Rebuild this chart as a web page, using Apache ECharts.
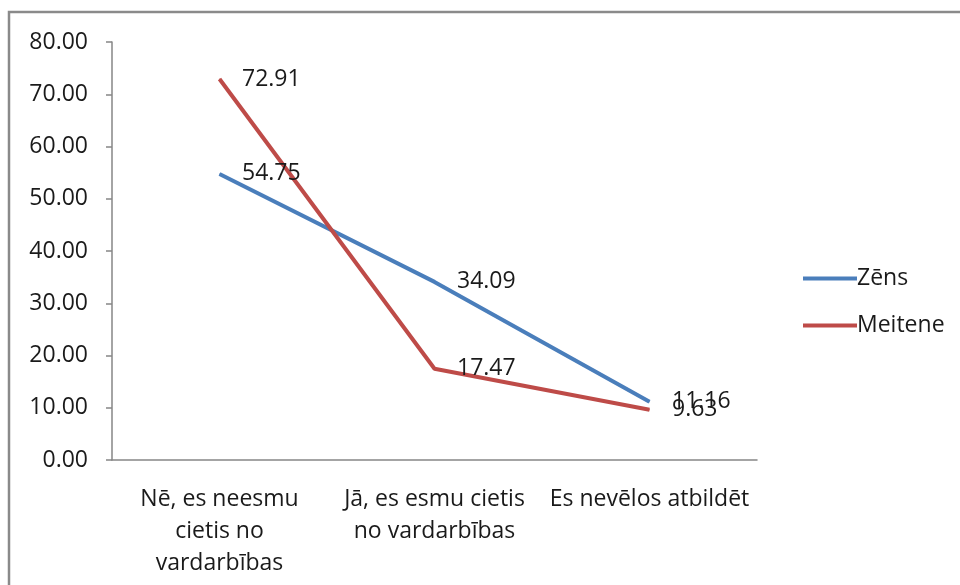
<!DOCTYPE html>
<html>
<head>
<meta charset="utf-8">
<style>
  html, body { margin: 0; padding: 0; background: #fff; }
  #chart { width: 960px; height: 585px; }
</style>
</head>
<body>
<div id="chart"></div>
<script src="https://cdn.jsdelivr.net/npm/echarts@6/dist/echarts.min.js"></script>
<script>
var categories = ['Nē, es neesmu\ncietis no\nvardarbības', 'Jā, es esmu cietis\nno vardarbības', 'Es nevēlos atbildēt'];
var zens = [54.75, 34.09, 11.16];
var meitene = [72.91, 17.47, 9.63];

var font = '"Open Sans", Lato, sans-serif';
var fs = 23;
var myChart = echarts.init(document.getElementById('chart'));

var labelStyle = {
    show: true,
    position: 'right',
    distance: 22,
    color: '#1a1a1a',
    fontSize: fs,
    fontFamily: font,
    formatter: function (p) { return p.value.toFixed(2); }
};

var option = {
    animation: false,
    backgroundColor: '#fff',
    graphic: [{
        type: 'rect',
        shape: { x: 9, y: 12, width: 1000, height: 620 },
        style: { fill: 'none', stroke: '#8a8a8a', lineWidth: 2.5 },
        silent: true
    }],
    grid: { left: 112, right: 203, top: 42, bottom: 125 },
    legend: {
        orient: 'vertical',
        left: 798,
        top: 262,
        itemGap: 24,
        itemWidth: 54,
        itemHeight: 4,
        icon: 'rect',
        textStyle: { fontSize: fs, fontFamily: font, color: '#1a1a1a', padding: [0, 0, 0, -5] },
        data: ['Zēns', 'Meitene']
    },
    xAxis: {
        type: 'category',
        data: categories,
        axisLine: { lineStyle: { color: '#868686', width: 1.5 } },
        axisTick: { length: 8, lineStyle: { color: '#868686', width: 1.5 } },
        axisLabel: { margin: 23, fontSize: fs, fontFamily: font, color: '#1a1a1a', lineHeight: 32, interval: 0 }
    },
    yAxis: {
        type: 'value',
        min: 0,
        max: 80,
        interval: 10,
        splitLine: { show: false },
        axisLine: { show: true, lineStyle: { color: '#868686', width: 1.5 } },
        axisTick: { show: true, length: 6, lineStyle: { color: '#868686', width: 1.5 } },
        axisLabel: {
            margin: 24, fontSize: fs, fontFamily: font, color: '#1a1a1a',
            formatter: function (v) { return v.toFixed(2); }
        }
    },
    series: [
        {
            name: 'Zēns',
            type: 'line',
            data: zens,
            symbol: 'circle',
            symbolSize: 1,
            lineStyle: { color: '#4a7ebb', width: 4 },
            itemStyle: { color: '#4a7ebb' },
            label: labelStyle
        },
        {
            name: 'Meitene',
            type: 'line',
            data: meitene,
            symbol: 'circle',
            symbolSize: 1,
            lineStyle: { color: '#be4b48', width: 4 },
            itemStyle: { color: '#be4b48' },
            label: labelStyle
        }
    ]
};
myChart.setOption(option);
</script>
</body>
</html>
